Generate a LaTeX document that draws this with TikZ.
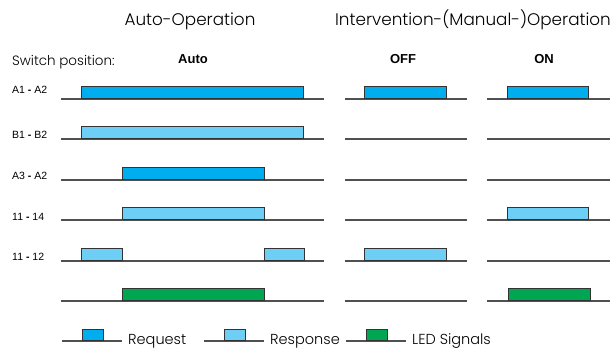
\documentclass[tikz,border=0pt]{standalone}
\usepackage{fontspec}
\setmainfont{Liberation Sans}
\newfontfamily\futfont{Poppins Light}
\usetikzlibrary{calc, positioning}
\definecolor{rq}{HTML}{00AEEF}
\definecolor{rs}{HTML}{6DCFF6}
\definecolor{ld}{HTML}{00A651}
\definecolor{ln}{HTML}{505050}
\tikzset{
	track/.style={draw=ln, line width=1.1pt},
	pulse/.style={draw=black!80, line width=1pt},
	lbl/.style={anchor=base west, inner sep=0pt, font=\fontsize{10.5}{12}\selectfont},
	head/.style={anchor=base, inner sep=0pt, font=\futfont\fontsize{16.8}{18}\selectfont},
	swpos/.style={anchor=base, inner sep=0pt, font=\bfseries\fontsize{13}{15}\selectfont},
	leg/.style={anchor=base west, inner sep=0pt, font=\futfont\fontsize{14.5}{16}\selectfont}
}

\begin{document}
\begin{tikzpicture}[x=1pt, y=-1pt]
	\useasboundingbox (0,0) rectangle (614,352);
	
	% headings
	\node[head] (hauto) at (190,26) {Auto-Operation};
	\node[head] (hman) at (473,26) {Intervention-(Manual-)Operation};
	\node[leg, font=\futfont\fontsize{13.5}{15}\selectfont] (sw) at (12,66) {Switch position:};
	\foreach \n/\x/\t in {pauto/193/Auto, poff/403/OFF, pon/544/ON}{
		\node[swpos] (\n) at (\x,64) {\t};
	};
	
	% row labels
	\foreach \n/\y/\t in {r1/94/A1 \textbf{-} A2, r2/139/B1 \textbf{-} B2, r3/180/A3 \textbf{-} A2, r4/221/11 \textbf{-} 14, r5/261/11 \textbf{-} 12}{
		\node[lbl] (\n) at (12,\y) {\t};
	};
	
	% tracks: auto, off, on
	\foreach \y in {99, 139, 180, 220, 261, 301}{
		\draw[track] (61,\y) -- (324,\y);
		\draw[track] (345,\y) -- (467,\y);
		\draw[track] (487,\y) -- (610,\y);
	};
	
	% pulses
	\foreach \y/\a/\b/\c in {99/81/303/rq, 99/364/446/rq, 99/507/588/rq,
		139/81/303/rs,
		180/122/264/rq,
		220/122/264/rs, 220/507/588/rs,
		261/81/122/rs, 261/264/304/rs, 261/364/446/rs,
		301/122/264/ld, 301/508/590/ld}{
		\filldraw[pulse, fill=\c] (\a,\y) rectangle (\b,\y-12);
	};
	
	% legend
	\foreach \n/\x/\c/\t in {lreq/62/rq/Request, lres/204/rs/Response, lled/346/ld/LED Signals}{
		\draw[track] (\x,341) -- ++(60,0);
		\filldraw[pulse, fill=\c] (\x+20,341) rectangle ++(21,-11);
		\node[leg] (\n) at (\x+66,345) {\t};
	};
\end{tikzpicture}
\end{document}
